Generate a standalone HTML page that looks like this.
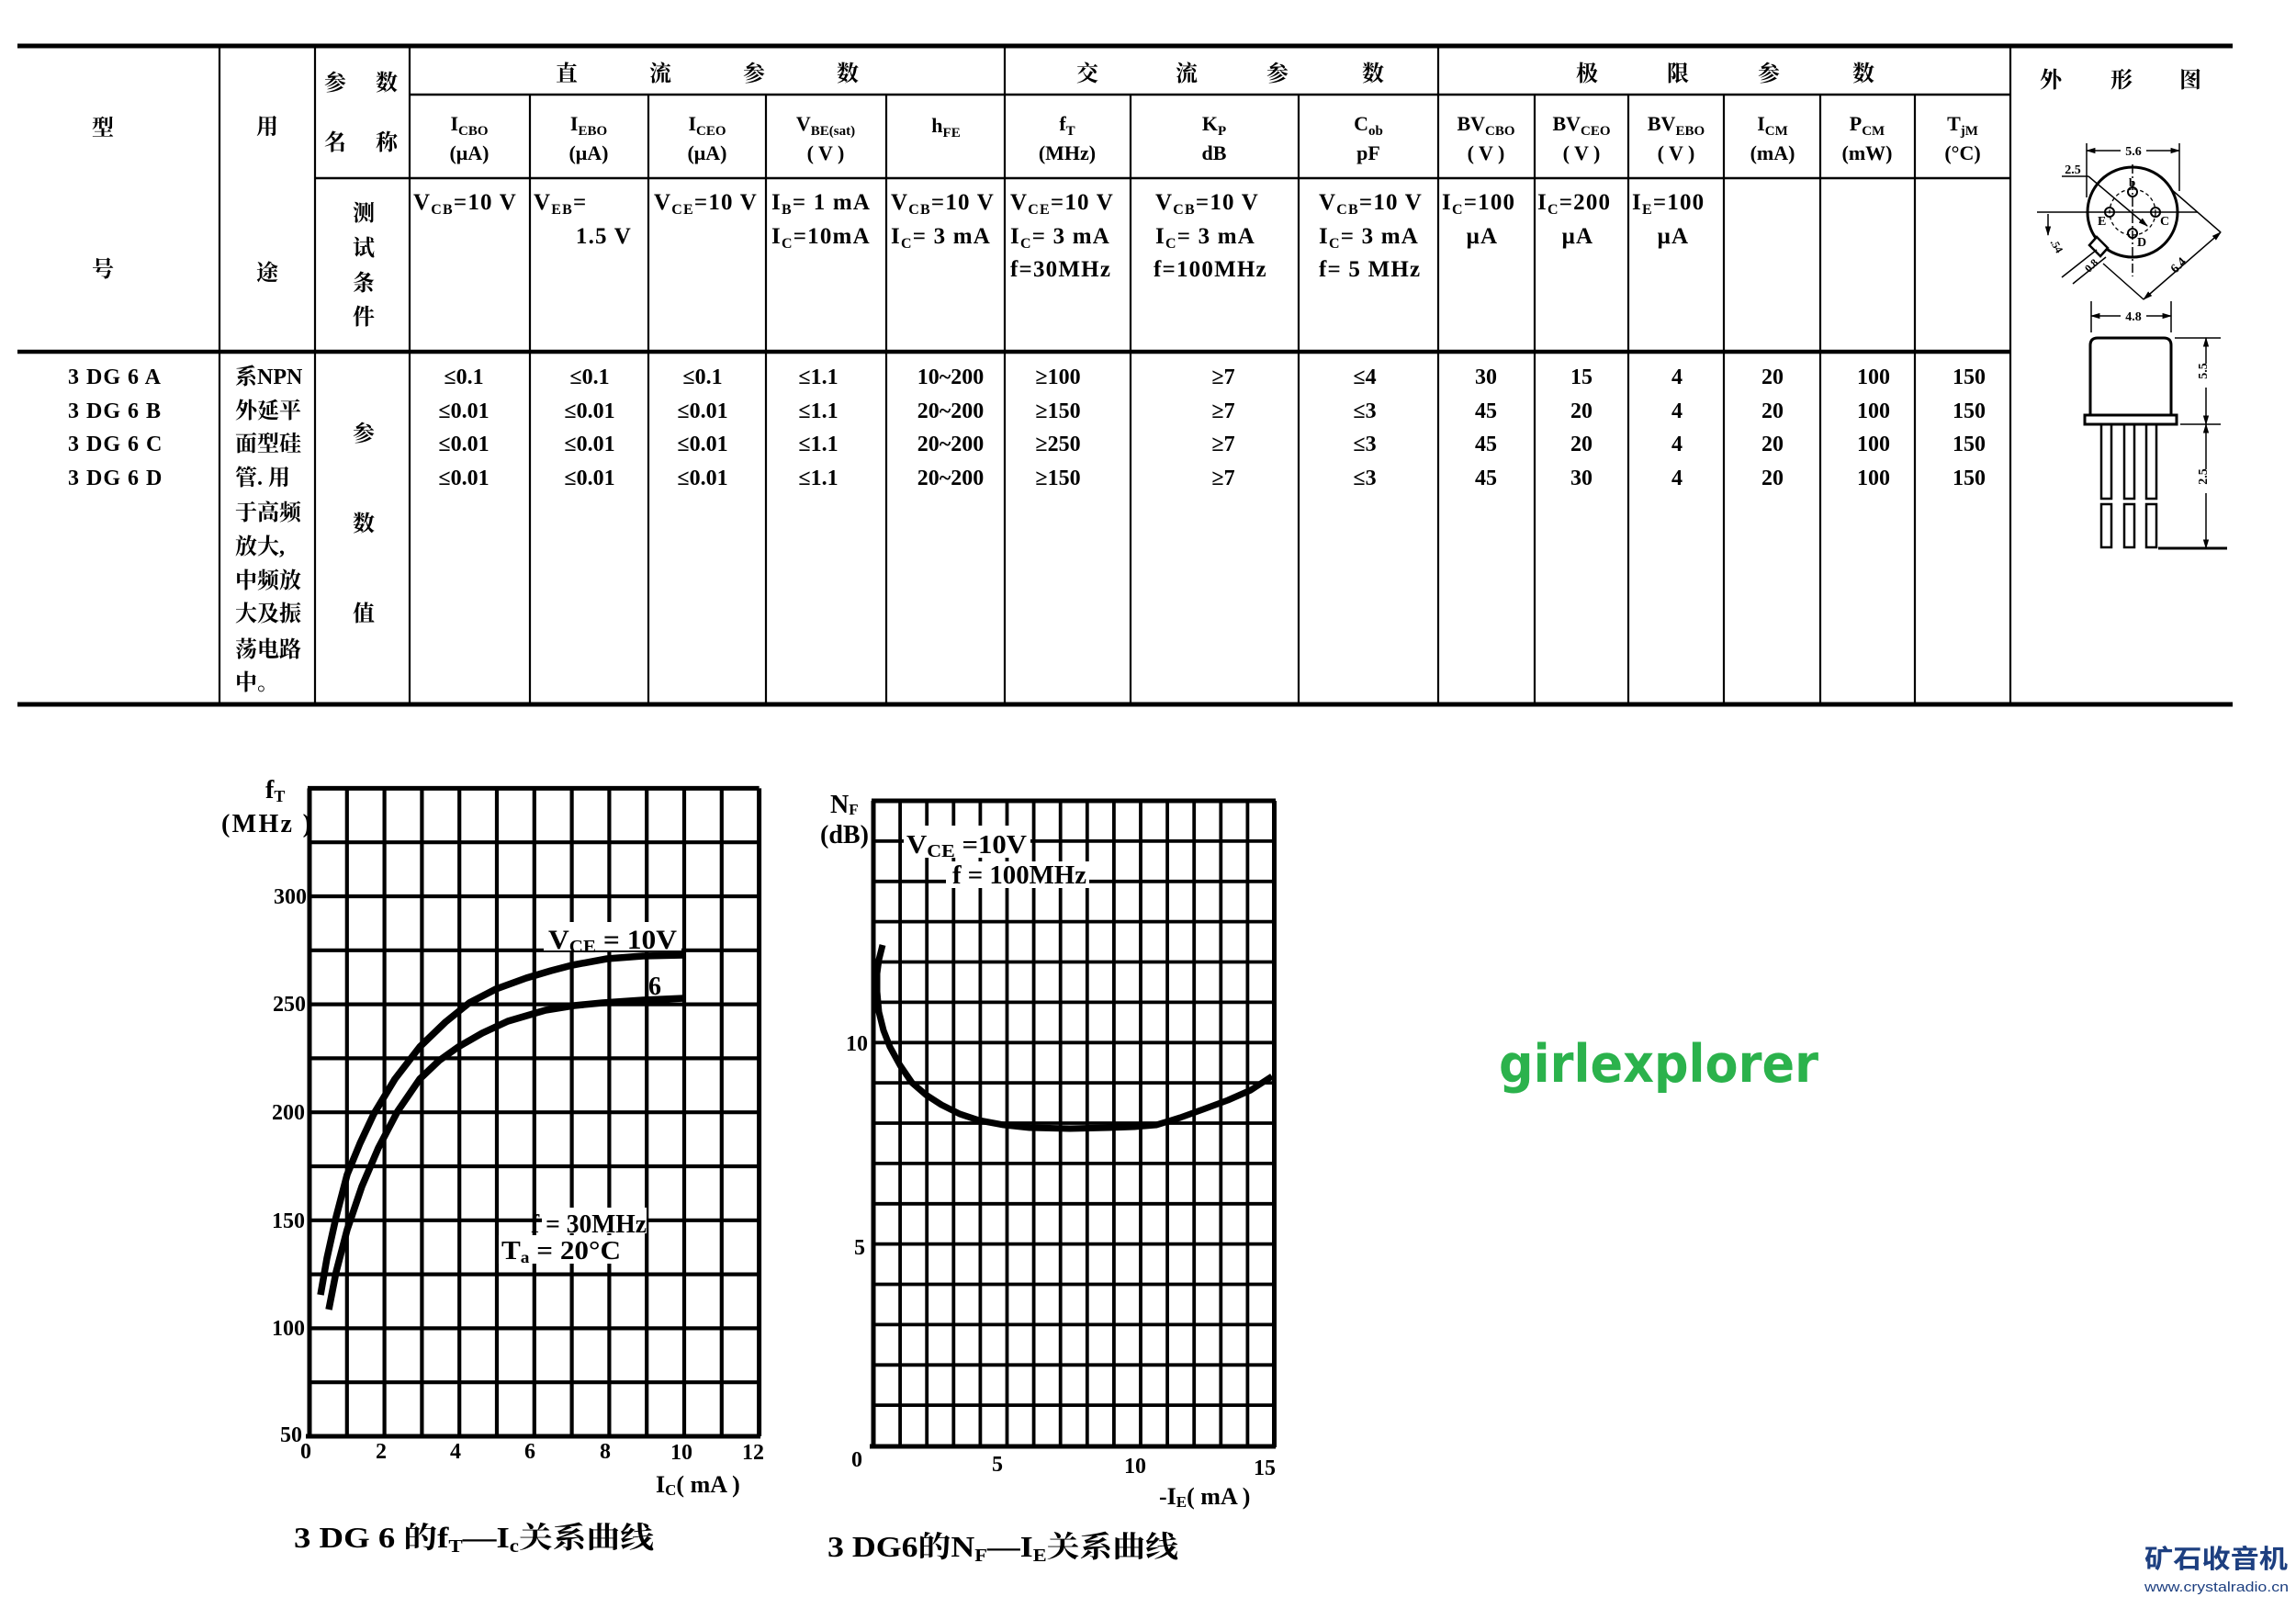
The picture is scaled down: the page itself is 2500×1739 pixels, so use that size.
<!DOCTYPE html>
<html><head><meta charset="utf-8"><style>
html,body{margin:0;padding:0;background:#fff;}
svg{display:block;}
.m{font-family:"Liberation Serif","Noto Serif CJK SC",serif;font-weight:bold;fill:#000;}
.k{font-family:"Liberation Serif","Noto Serif CJK SC","Noto Sans CJK SC",serif;font-weight:bold;fill:#000;font-size:24px;text-anchor:middle;}
.c{text-anchor:middle;}
.e{text-anchor:end;}
</style></head><body>
<svg width="2500" height="1739" viewBox="0 0 2500 1739" xmlns="http://www.w3.org/2000/svg">
<defs>
<marker id="ar" viewBox="0 0 10 10" refX="9" refY="5" markerWidth="7" markerHeight="7" orient="auto-start-reverse"><path d="M0 2L10 5L0 8z" fill="#000"/></marker>
</defs>
<rect width="2500" height="1739" fill="#fff"/>

<!-- ============ TABLE LINES ============ -->
<g stroke="#000" fill="none">
<line x1="19" y1="50" x2="2431" y2="50" stroke-width="5"/>
<line x1="446" y1="103" x2="2189" y2="103" stroke-width="2.5"/>
<line x1="343" y1="194" x2="2189" y2="194" stroke-width="2.5"/>
<line x1="19" y1="383" x2="2189" y2="383" stroke-width="4.5"/>
<line x1="19" y1="767" x2="2431" y2="767" stroke-width="5"/>
<path stroke-width="2.2" d="M239 50V767 M343 50V767 M446 50V767 M1094 50V767 M1566 50V767 M2189 50V767
M577 103V767 M706 103V767 M834 103V767 M965 103V767 M1231 103V767 M1414 103V767 M1671 103V767 M1773 103V767 M1877 103V767 M1982 103V767 M2085 103V767"/>
</g>

<!-- header CJK -->
<text class="k" x="112" y="147">型</text>
<text class="k" x="112" y="301">号</text>
<text class="k" x="291" y="146">用</text>
<text class="k" x="291" y="305">途</text>
<text class="k" x="365" y="98">参</text><text class="k" x="421" y="98">数</text>
<text class="k" x="365" y="163">名</text><text class="k" x="421" y="163">称</text>
<text class="k" x="396" y="240">测</text><text class="k" x="396" y="278">试</text>
<text class="k" x="396" y="316">条</text><text class="k" x="396" y="353">件</text>
<text class="k" x="617" y="88">直</text><text class="k" x="719" y="88">流</text><text class="k" x="821" y="88">参</text><text class="k" x="923" y="88">数</text>
<text class="k" x="1184" y="88">交</text><text class="k" x="1292" y="88">流</text><text class="k" x="1391" y="88">参</text><text class="k" x="1495" y="88">数</text>
<text class="k" x="1728" y="88">极</text><text class="k" x="1827" y="88">限</text><text class="k" x="1926" y="88">参</text><text class="k" x="2029" y="88">数</text>
<text class="k" x="2233" y="95">外</text><text class="k" x="2310" y="95">形</text><text class="k" x="2385" y="95">图</text>

<!-- names row -->
<g font-size="22">
<text class="m c" x="511" y="142">I<tspan font-size="15" dy="5">CBO</tspan></text>
<text class="m c" x="641" y="142">I<tspan font-size="15" dy="5">EBO</tspan></text>
<text class="m c" x="770" y="142">I<tspan font-size="15" dy="5">CEO</tspan></text>
<text class="m c" x="899" y="142">V<tspan font-size="15" dy="5">BE(sat)</tspan></text>
<text class="m c" x="1030" y="144">h<tspan font-size="15" dy="5">FE</tspan></text>
<text class="m c" x="1162" y="142">f<tspan font-size="15" dy="5">T</tspan></text>
<text class="m c" x="1322" y="142">K<tspan font-size="15" dy="5">P</tspan></text>
<text class="m c" x="1490" y="142">C<tspan font-size="15" dy="5">ob</tspan></text>
<text class="m c" x="1618" y="142">BV<tspan font-size="15" dy="5">CBO</tspan></text>
<text class="m c" x="1722" y="142">BV<tspan font-size="15" dy="5">CEO</tspan></text>
<text class="m c" x="1825" y="142">BV<tspan font-size="15" dy="5">EBO</tspan></text>
<text class="m c" x="1930" y="142">I<tspan font-size="15" dy="5">CM</tspan></text>
<text class="m c" x="2033" y="142">P<tspan font-size="15" dy="5">CM</tspan></text>
<text class="m c" x="2137" y="142">T<tspan font-size="15" dy="5">jM</tspan></text>
<text class="m c" x="511" y="174">(μA)</text>
<text class="m c" x="641" y="174">(μA)</text>
<text class="m c" x="770" y="174">(μA)</text>
<text class="m c" x="899" y="174">( V )</text>
<text class="m c" x="1162" y="174">(MHz)</text>
<text class="m c" x="1322" y="174">dB</text>
<text class="m c" x="1490" y="174">pF</text>
<text class="m c" x="1618" y="174">( V )</text>
<text class="m c" x="1722" y="174">( V )</text>
<text class="m c" x="1825" y="174">( V )</text>
<text class="m c" x="1930" y="174">(mA)</text>
<text class="m c" x="2033" y="174">(mW)</text>
<text class="m c" x="2137" y="174">(°C)</text>
</g>

<!-- conditions -->
<g font-size="25" letter-spacing="1.2">
<text class="m" x="450" y="228">V<tspan font-size="16" dy="5">CB</tspan><tspan dy="-5">=10 V</tspan></text>
<text class="m" x="581" y="228">V<tspan font-size="16" dy="5">EB</tspan><tspan dy="-5">=</tspan></text>
<text class="m e" x="688" y="265">1.5 V</text>
<text class="m" x="712" y="228">V<tspan font-size="16" dy="5">CE</tspan><tspan dy="-5">=10 V</tspan></text>
<text class="m" x="840" y="228">I<tspan font-size="16" dy="5">B</tspan><tspan dy="-5">= 1 mA</tspan></text>
<text class="m" x="840" y="265">I<tspan font-size="16" dy="5">C</tspan><tspan dy="-5">=10mA</tspan></text>
<text class="m" x="970" y="228">V<tspan font-size="16" dy="5">CB</tspan><tspan dy="-5">=10 V</tspan></text>
<text class="m" x="970" y="265">I<tspan font-size="16" dy="5">C</tspan><tspan dy="-5">= 3 mA</tspan></text>
<text class="m" x="1100" y="228">V<tspan font-size="16" dy="5">CE</tspan><tspan dy="-5">=10 V</tspan></text>
<text class="m" x="1100" y="265">I<tspan font-size="16" dy="5">C</tspan><tspan dy="-5">= 3 mA</tspan></text>
<text class="m" x="1100" y="301">f=30MHz</text>
<text class="m" x="1258" y="228">V<tspan font-size="16" dy="5">CB</tspan><tspan dy="-5">=10 V</tspan></text>
<text class="m" x="1258" y="265">I<tspan font-size="16" dy="5">C</tspan><tspan dy="-5">= 3 mA</tspan></text>
<text class="m" x="1256" y="301">f=100MHz</text>
<text class="m" x="1436" y="228">V<tspan font-size="16" dy="5">CB</tspan><tspan dy="-5">=10 V</tspan></text>
<text class="m" x="1436" y="265">I<tspan font-size="16" dy="5">C</tspan><tspan dy="-5">= 3 mA</tspan></text>
<text class="m" x="1436" y="301">f= 5 MHz</text>
<text class="m" x="1570" y="228">I<tspan font-size="16" dy="5">C</tspan><tspan dy="-5">=100</tspan></text>
<text class="m c" x="1614" y="265">μA</text>
<text class="m" x="1674" y="228">I<tspan font-size="16" dy="5">C</tspan><tspan dy="-5">=200</tspan></text>
<text class="m c" x="1718" y="265">μA</text>
<text class="m" x="1777" y="228">I<tspan font-size="16" dy="5">E</tspan><tspan dy="-5">=100</tspan></text>
<text class="m c" x="1822" y="265">μA</text>
</g>

<!-- model names -->
<g font-size="24">
<text class="m" x="74" y="418" letter-spacing="1">3 DG 6 A</text>
<text class="m" x="74" y="455" letter-spacing="1">3 DG 6 B</text>
<text class="m" x="74" y="491" letter-spacing="1">3 DG 6 C</text>
<text class="m" x="74" y="528" letter-spacing="1">3 DG 6 D</text>
</g>
<!-- usage column -->
<g font-size="24">
<text class="m" x="256" y="418">系NPN</text>
<text class="m" x="256" y="455">外延平</text>
<text class="m" x="256" y="491">面型硅</text>
<text class="m" x="256" y="528">管. 用</text>
<text class="m" x="256" y="566">于高频</text>
<text class="m" x="256" y="603">放大,</text>
<text class="m" x="256" y="640">中频放</text>
<text class="m" x="256" y="676">大及振</text>
<text class="m" x="256" y="715">荡电路</text>
<text class="m" x="256" y="751">中。</text>
</g>
<text class="k" x="396" y="480">参</text>
<text class="k" x="396" y="578">数</text>
<text class="k" x="396" y="676">值</text>

<!-- values -->
<g font-size="24">
<text class="m c" x="505" y="418">≤0.1</text><text class="m c" x="505" y="455">≤0.01</text><text class="m c" x="505" y="491">≤0.01</text><text class="m c" x="505" y="528">≤0.01</text>
<text class="m c" x="642" y="418">≤0.1</text><text class="m c" x="642" y="455">≤0.01</text><text class="m c" x="642" y="491">≤0.01</text><text class="m c" x="642" y="528">≤0.01</text>
<text class="m c" x="765" y="418">≤0.1</text><text class="m c" x="765" y="455">≤0.01</text><text class="m c" x="765" y="491">≤0.01</text><text class="m c" x="765" y="528">≤0.01</text>
<text class="m c" x="891" y="418">≤1.1</text><text class="m c" x="891" y="455">≤1.1</text><text class="m c" x="891" y="491">≤1.1</text><text class="m c" x="891" y="528">≤1.1</text>
<text class="m c" x="1035" y="418">10~200</text><text class="m c" x="1035" y="455">20~200</text><text class="m c" x="1035" y="491">20~200</text><text class="m c" x="1035" y="528">20~200</text>
<text class="m c" x="1152" y="418">≥100</text><text class="m c" x="1152" y="455">≥150</text><text class="m c" x="1152" y="491">≥250</text><text class="m c" x="1152" y="528">≥150</text>
<text class="m c" x="1332" y="418">≥7</text><text class="m c" x="1332" y="455">≥7</text><text class="m c" x="1332" y="491">≥7</text><text class="m c" x="1332" y="528">≥7</text>
<text class="m c" x="1486" y="418">≤4</text><text class="m c" x="1486" y="455">≤3</text><text class="m c" x="1486" y="491">≤3</text><text class="m c" x="1486" y="528">≤3</text>
<text class="m c" x="1618" y="418">30</text><text class="m c" x="1618" y="455">45</text><text class="m c" x="1618" y="491">45</text><text class="m c" x="1618" y="528">45</text>
<text class="m c" x="1722" y="418">15</text><text class="m c" x="1722" y="455">20</text><text class="m c" x="1722" y="491">20</text><text class="m c" x="1722" y="528">30</text>
<text class="m c" x="1826" y="418">4</text><text class="m c" x="1826" y="455">4</text><text class="m c" x="1826" y="491">4</text><text class="m c" x="1826" y="528">4</text>
<text class="m c" x="1930" y="418">20</text><text class="m c" x="1930" y="455">20</text><text class="m c" x="1930" y="491">20</text><text class="m c" x="1930" y="528">20</text>
<text class="m c" x="2040" y="418">100</text><text class="m c" x="2040" y="455">100</text><text class="m c" x="2040" y="491">100</text><text class="m c" x="2040" y="528">100</text>
<text class="m c" x="2144" y="418">150</text><text class="m c" x="2144" y="455">150</text><text class="m c" x="2144" y="491">150</text><text class="m c" x="2144" y="528">150</text>
</g>

<!-- ============ OUTLINE DRAWING ============ -->
<g stroke="#000" fill="none">
<circle cx="2322" cy="231" r="49" stroke-width="3"/>
<polygon points="2283,258 2295,270 2287,279 2275,267" fill="#fff" stroke-width="2.5"/>
<line x1="2218" y1="231" x2="2393" y2="231" stroke-width="1.5"/>
<line x1="2322" y1="179" x2="2322" y2="301" stroke-width="1.5" stroke-dasharray="10,3,2,3"/>
<circle cx="2322" cy="231" r="25" stroke-width="1.3" stroke-dasharray="4,3"/>
<circle cx="2297" cy="231" r="5" stroke-width="2"/>
<circle cx="2347" cy="231" r="5" stroke-width="2"/>
<circle cx="2322" cy="209" r="5" stroke-width="2"/>
<circle cx="2322" cy="254" r="5" stroke-width="2"/>
<line x1="2272" y1="164" x2="2373" y2="164" stroke-width="1.5" marker-start="url(#ar)" marker-end="url(#ar)"/>
<line x1="2272" y1="156" x2="2272" y2="215" stroke-width="1.5"/>
<line x1="2373" y1="156" x2="2373" y2="208" stroke-width="1.5"/>
<line x1="2245" y1="192" x2="2274" y2="192" stroke-width="1.5"/>
<line x1="2274" y1="192" x2="2338" y2="246" stroke-width="1.5" marker-end="url(#ar)"/>
<line x1="2364" y1="206" x2="2418" y2="253" stroke-width="1.5"/>
<line x1="2418" y1="253" x2="2334" y2="326" stroke-width="1.5" marker-start="url(#ar)" marker-end="url(#ar)"/>
<line x1="2290" y1="287" x2="2334" y2="326" stroke-width="1.5"/>
<line x1="2245" y1="302" x2="2283" y2="272" stroke-width="1.5"/>
<line x1="2257" y1="309" x2="2293" y2="280" stroke-width="1.5"/>
<line x1="2230" y1="233" x2="2230" y2="256" stroke-width="1.5" marker-end="url(#ar)"/>
<!-- side view -->
<line x1="2277" y1="344" x2="2364" y2="344" stroke-width="1.5" marker-start="url(#ar)" marker-end="url(#ar)"/>
<line x1="2277" y1="328" x2="2277" y2="362" stroke-width="1.5"/>
<line x1="2364" y1="328" x2="2364" y2="362" stroke-width="1.5"/>
<path d="M2276 452V376Q2276 368 2284 368H2356Q2364 368 2364 376V452" stroke-width="3"/>
<rect x="2270" y="452" width="100" height="10" stroke-width="3"/>
<rect x="2288" y="462" width="11" height="81" stroke-width="2.5"/>
<rect x="2313" y="462" width="11" height="81" stroke-width="2.5"/>
<rect x="2337" y="462" width="11" height="81" stroke-width="2.5"/>
<rect x="2288" y="549" width="11" height="47" stroke-width="2.5"/>
<rect x="2313" y="549" width="11" height="47" stroke-width="2.5"/>
<rect x="2337" y="549" width="11" height="47" stroke-width="2.5"/>
<line x1="2368" y1="368" x2="2418" y2="368" stroke-width="1.5"/>
<line x1="2374" y1="462" x2="2418" y2="462" stroke-width="1.5"/>
<line x1="2350" y1="597" x2="2425" y2="597" stroke-width="3"/>
<line x1="2402" y1="368" x2="2402" y2="462" stroke-width="1.5" marker-start="url(#ar)" marker-end="url(#ar)"/>
<line x1="2402" y1="462" x2="2402" y2="597" stroke-width="1.5" marker-start="url(#ar)" marker-end="url(#ar)"/>
</g>
<g font-size="14">
<rect x="2309" y="156" width="28" height="16" fill="#fff"/>
<text class="m c" x="2323" y="169">5.6</text>
<text class="m c" x="2257" y="189">2.5</text>
<text class="m" x="2318" y="203" font-size="13">b</text>
<text class="m" x="2284" y="245" font-size="14">E</text>
<text class="m" x="2352" y="245" font-size="14">C</text>
<text class="m" x="2327" y="268" font-size="14">D</text>
<text class="m c" x="2375" y="292" transform="rotate(-45 2375 292)">6.4</text>
<text class="m c" x="2280" y="292" transform="rotate(-45 2280 292)" font-size="12">0.8</text>
<text class="m c" x="2236" y="270" transform="rotate(60 2236 270)" font-size="12">.54</text>
<rect x="2309" y="336" width="28" height="16" fill="#fff"/>
<text class="m c" x="2323" y="349">4.8</text>
<rect x="2395" y="396" width="16" height="26" fill="#fff"/>
<text class="m c" x="2408" y="409" transform="rotate(-90 2403 409)">5.5</text>
<rect x="2395" y="511" width="16" height="26" fill="#fff"/>
<text class="m c" x="2408" y="524" transform="rotate(-90 2403 524)">2.5</text>
</g>

<!-- ============ CHART 1 ============ -->
<g stroke="#000" fill="none">
<path stroke-width="4.2" d="M377.8 858V1564 M418.6 858V1564 M459.4 858V1564 M500.2 858V1564 M541 858V1564 M581.8 858V1564 M622.6 858V1564 M663.4 858V1564 M704.2 858V1564 M745 858V1564 M785.8 858V1564
M337 1505.2H826.6 M337 1446.4H826.6 M337 1387.6H826.6 M337 1328.8H826.6 M337 1270H826.6 M337 1211.2H826.6 M337 1152.4H826.6 M337 1093.6H826.6 M337 1034.8H826.6 M337 976H826.6 M337 917.2H826.6"/>
<path stroke-width="5" d="M337 858.4V1564 M826.6 858.4V1564 M335 858.4H826.6 M333 1564H828"/>
</g>
<rect x="592" y="1004" width="150" height="31" fill="#fff"/>
<rect x="590" y="1315" width="114" height="28" fill="#fff"/>
<rect x="543" y="1345" width="140" height="31" fill="#fff"/>
<g stroke="#000" fill="none" stroke-width="7.5" stroke-linejoin="round" stroke-linecap="butt">
<polyline points="349,1410 356,1370 366,1325 378,1279 392,1245 407,1213 430,1175 457,1140 485,1113 511,1092 540,1077 573,1065 600,1057 623,1051 661,1044 700,1041 745,1040"/>
<polyline points="358,1426 366,1385 378,1339 394,1292 412,1250 433,1210 457,1175 478,1155 499,1140 525,1125 553,1112 594,1100 625,1095 656,1092 700,1089 745,1087"/>
</g>
<g font-size="28">
<text class="m" x="289" y="869">f<tspan font-size="18" dy="4">T</tspan></text>
<text class="m" x="241" y="906" textLength="98">(MHz )</text>
<text class="m" x="597" y="1033" font-size="30" textLength="140" lengthAdjust="spacingAndGlyphs">V<tspan font-size="20" dy="4">CE</tspan><tspan dy="-4"> = 10V</tspan></text>
<text class="m c" x="713" y="1083">6</text>
<text class="m" x="578" y="1342" font-size="29" textLength="126" lengthAdjust="spacingAndGlyphs">f = 30MHz</text>
<text class="m" x="546" y="1371" font-size="29" textLength="130" lengthAdjust="spacingAndGlyphs">T<tspan font-size="18" dy="4">a</tspan><tspan dy="-4">  = 20°C</tspan></text>
</g>
<g font-size="24">
<text class="m e" x="334" y="984">300</text>
<text class="m e" x="333" y="1101">250</text>
<text class="m e" x="332" y="1219">200</text>
<text class="m e" x="332" y="1337">150</text>
<text class="m e" x="332" y="1454">100</text>
<text class="m e" x="329" y="1570">50</text>
<text class="m c" x="333" y="1588">0</text>
<text class="m c" x="415" y="1588">2</text>
<text class="m c" x="496" y="1588">4</text>
<text class="m c" x="577" y="1588">6</text>
<text class="m c" x="659" y="1588">8</text>
<text class="m c" x="742" y="1589">10</text>
<text class="m c" x="820" y="1589">12</text>
</g>
<text class="m" x="714" y="1625" font-size="26">I<tspan font-size="17" dy="3">C</tspan><tspan dy="-3">( mA )</tspan></text>

<!-- ============ CHART 2 ============ -->
<g stroke="#000" fill="none">
<path stroke-width="3.8" d="M980.1 872V1574 M1009.2 872V1574 M1038.3 872V1574 M1067.4 872V1574 M1096.5 872V1574 M1125.6 872V1574 M1154.7 872V1574 M1183.8 872V1574 M1212.9 872V1574 M1242 872V1574 M1271.1 872V1574 M1300.2 872V1574 M1329.3 872V1574 M1358.4 872V1574
M951 1530.1H1387.5 M951 1486.3H1387.5 M951 1442.4H1387.5 M951 1398.5H1387.5 M951 1354.6H1387.5 M951 1310.8H1387.5 M951 1266.9H1387.5 M951 1223H1387.5 M951 1179.1H1387.5 M951 1135.3H1387.5 M951 1091.4H1387.5 M951 1047.5H1387.5 M951 1003.6H1387.5 M951 959.8H1387.5 M951 915.9H1387.5"/>
<path stroke-width="5" d="M951 872V1576 M1387.5 872V1576 M949 872H1389 M947 1575H1389"/>
</g>
<rect x="984" y="899" width="138" height="35" fill="#fff"/>
<rect x="1030" y="938" width="156" height="29" fill="#fff"/>
<polyline fill="none" stroke="#000" stroke-width="7" stroke-linejoin="round" points="961,1029 957,1045 955,1060 955,1080 957,1102 962,1122 969,1140 980,1160 993,1179 1008,1192 1025,1203 1045,1213 1066,1220 1093,1225 1121,1228 1165,1229 1207,1228 1235,1227 1259,1225 1285,1217 1310,1208 1337,1198 1362,1187 1385,1172"/>
<g font-size="28">
<text class="m" x="904" y="885">N<tspan font-size="17" dy="2">F</tspan></text>
<text class="m" x="893" y="918">(dB)</text>
<text class="m" x="987" y="929" textLength="131" lengthAdjust="spacingAndGlyphs">V<tspan font-size="20" dy="4">CE</tspan><tspan dy="-4"> =10V</tspan></text>
<text class="m" x="1037" y="962" textLength="146" lengthAdjust="spacingAndGlyphs">f = 100MHz</text>
</g>
<g font-size="24">
<text class="m e" x="945" y="1144">10</text>
<text class="m e" x="942" y="1366">5</text>
<text class="m c" x="933" y="1597">0</text>
<text class="m c" x="1086" y="1602">5</text>
<text class="m c" x="1236" y="1604">10</text>
<text class="m c" x="1377" y="1606">15</text>
</g>
<text class="m" x="1262" y="1638" font-size="26">-I<tspan font-size="17" dy="3">E</tspan><tspan dy="-3">( mA )</tspan></text>

<!-- captions -->
<text class="m" x="320" y="1685" font-size="32" textLength="392" lengthAdjust="spacingAndGlyphs">3 DG 6 的f<tspan font-size="20" dy="5">T</tspan><tspan dy="-5">—I</tspan><tspan font-size="20" dy="5">c</tspan><tspan dy="-5">关系曲线</tspan></text>
<text class="m" x="901" y="1695" font-size="32" textLength="382" lengthAdjust="spacingAndGlyphs">3 DG6的N<tspan font-size="20" dy="5">F</tspan><tspan dy="-5">—I</tspan><tspan font-size="20" dy="5">E</tspan><tspan dy="-5">关系曲线</tspan></text>

<!-- watermarks -->
<text x="1632" y="1178" font-family="DejaVu Sans, Liberation Sans, sans-serif" font-weight="bold" font-size="57" fill="#2bb24c" textLength="348" lengthAdjust="spacingAndGlyphs">girlexplorer</text>
<text x="2335" y="1707" font-family="Liberation Sans, Noto Sans CJK SC, sans-serif" font-weight="bold" font-size="28" fill="#1d3f80" textLength="156" lengthAdjust="spacingAndGlyphs">矿石收音机</text>
<text x="2335" y="1733" font-family="Liberation Sans, sans-serif" font-size="15" fill="#1d3f80" textLength="157" lengthAdjust="spacingAndGlyphs">www.crystalradio.cn</text>
</svg>
</body></html>
